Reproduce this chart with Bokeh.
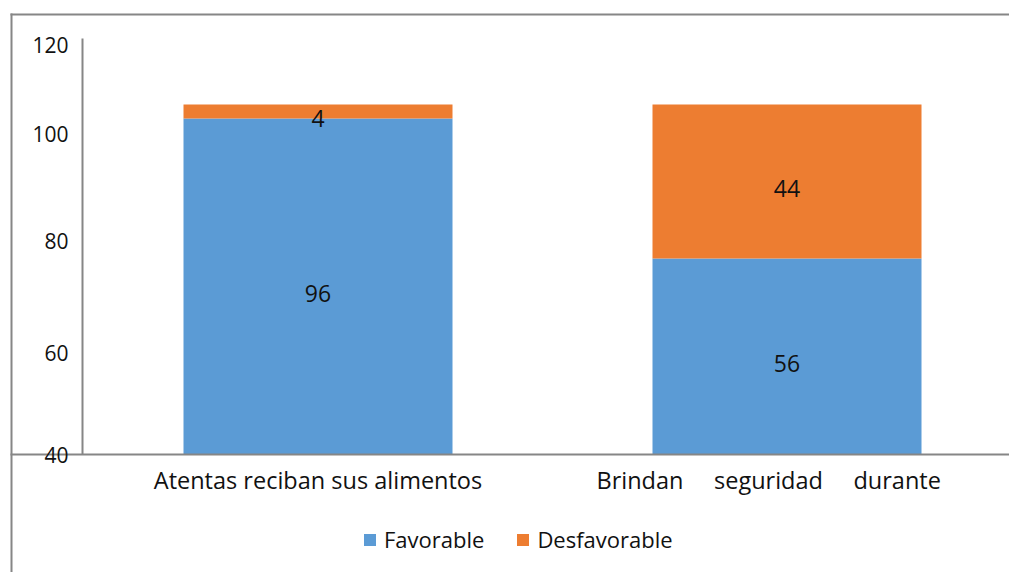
from bokeh.plotting import figure
from bokeh.models import ColumnDataSource, Range1d, FixedTicker
from bokeh.core.properties import value
from bokeh.embed import file_html
from bokeh.resources import INLINE

# ---- data ----
NB = "\u00a0"
categories = ["Atentas reciban sus alimentos",
              "Brindan" + NB * 5 + "seguridad" + NB * 5 + "durante" + NB * 6]
favorable = [96, 56]
desfavorable = [4, 44]
series_names = ["Favorable", "Desfavorable"]
y_tick_labels = ["40", "60", "80", "100", "120"]

# ---- styling ----
BLUE = "#5B9BD5"
ORANGE = "#ED7D31"
GRAY = "#868686"
TXT = "#111111"
FONT = "Open Sans"
W, H = 1009, 572

# pixel geometry of the plotting canvas (x: 469 px per category, y: 3.5 px per unit)
X0_PX, X_SCALE = 317.5, 469.0
Y0_PX, Y_SCALE = 454.0, 3.5


def px_x(px):
    return (px - X0_PX) / X_SCALE


def px_y(py):
    return (Y0_PX - py) / Y_SCALE


x_idx = list(range(len(categories)))
source = ColumnDataSource(dict(x=x_idx, favorable=favorable, desfavorable=desfavorable))

p = figure(width=W, height=H, output_backend="svg", toolbar_location=None,
           x_range=Range1d(px_x(0), px_x(W)), y_range=Range1d(px_y(H), px_y(0)),
           min_border=0)
p.outline_line_color = None
p.xgrid.grid_line_color = None
p.ygrid.grid_line_color = None
p.background_fill_color = "white"
p.border_fill_color = "white"

# outer frame lines (left and top)
p.segment(x0=[px_x(11), px_x(10)], y0=[px_y(13), px_y(14)],
          x1=[px_x(11), px_x(W)], y1=[px_y(H), px_y(14)],
          line_color=GRAY, line_width=2)

p.vbar_stack(["favorable", "desfavorable"], x="x", width=269 / X_SCALE, color=[BLUE, ORANGE],
             line_color=None, source=source, legend_label=series_names)

# data labels at the middle of each stacked segment
fav_mid = [f / 2 for f in favorable]
des_mid = [f + d / 2 for f, d in zip(favorable, desfavorable)]
lab_src = ColumnDataSource(dict(
    x=x_idx + x_idx,
    y=fav_mid + des_mid,
    t=[str(v) for v in favorable] + [str(v) for v in desfavorable]))
p.text(x="x", y="y", text="t", source=lab_src, text_align="center", text_baseline="middle",
       text_font=value(FONT), text_font_size="23px", text_color=TXT, y_offset=7)

# y axis (labels as in the original picture), fixed inside the canvas
y_tick_positions = [0, 29.1, 61.1, 91.7, 116.9]
p.yaxis.fixed_location = px_x(82)
p.yaxis.bounds = (0, px_y(38))
p.yaxis.ticker = FixedTicker(ticks=y_tick_positions)
p.yaxis.major_label_overrides = {t: l for t, l in zip(y_tick_positions, y_tick_labels)}
p.yaxis.axis_line_color = GRAY
p.yaxis.axis_line_width = 2
p.yaxis.major_tick_line_color = None
p.yaxis.minor_tick_line_color = None
p.yaxis.major_tick_out = 0
p.yaxis.major_tick_in = 0
p.yaxis.major_label_standoff = 14
p.yaxis.major_label_text_font = FONT
p.yaxis.major_label_text_font_size = "21px"
p.yaxis.major_label_text_color = TXT

# x axis at the base of the bars
p.xaxis.fixed_location = 0
p.xaxis.bounds = (px_x(10), px_x(W))
p.xaxis.ticker = FixedTicker(ticks=x_idx)
p.xaxis.major_label_overrides = {i: c for i, c in zip(x_idx, categories)}
p.xaxis.axis_line_color = GRAY
p.xaxis.axis_line_width = 2
p.xaxis.major_tick_line_color = None
p.xaxis.minor_tick_line_color = None
p.xaxis.major_tick_out = 0
p.xaxis.major_tick_in = 0
p.xaxis.major_label_standoff = 9
p.xaxis.major_label_text_font = FONT
p.xaxis.major_label_text_font_size = "23.5px"
p.xaxis.major_label_text_color = TXT

# legend below the bars
lg = p.legend[0]
lg.orientation = "horizontal"
lg.location = (362, 18)
lg.background_fill_alpha = 0
lg.border_line_color = None
lg.padding = 0
lg.margin = 0
lg.spacing = 31
lg.glyph_width = 15
lg.glyph_height = 15
lg.label_height = 15
lg.label_standoff = 7
lg.label_text_font = FONT
lg.label_text_font_size = "22px"
lg.label_text_color = TXT

open("out.html", "w").write(file_html(p, INLINE))
